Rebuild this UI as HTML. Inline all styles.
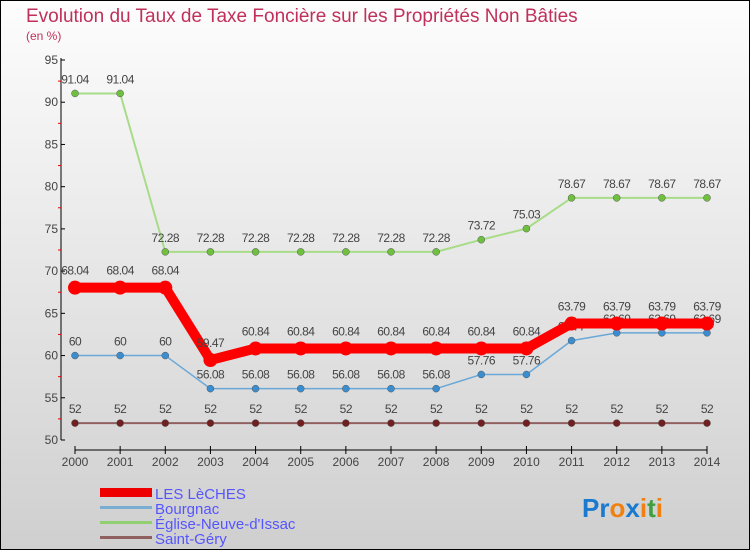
<!DOCTYPE html>
<html><head><meta charset="utf-8"><style>
body{margin:0;width:750px;height:550px;overflow:hidden;font-family:"Liberation Sans",sans-serif}
svg text{font-family:"Liberation Sans",sans-serif}
</style></head><body>
<svg width="750" height="550">
<defs><linearGradient id="bg" x1="0" y1="0" x2="0" y2="1"><stop offset="0" stop-color="#fdfdfd"/><stop offset="1" stop-color="#cfcfcf"/></linearGradient></defs>
<rect x="0.5" y="0.5" width="749" height="549" fill="url(#bg)" stroke="#000"/>
<text x="26" y="22" font-size="19" fill="#c0305a">Evolution du Taux de Taxe Foncière sur les Propriétés Non Bâties</text>
<text x="26" y="40" font-size="12" fill="#c0305a">(en %)</text>
<g id="axes"></g><g id="series"></g>
<g>
<rect x="100" y="488" width="52" height="9" fill="#e00"/>
<text x="155" y="499" font-size="15" fill="#55f">LES LèCHES</text>
<rect x="100" y="506" width="52" height="3" fill="#7aaed0"/>
<text x="155" y="514" font-size="15" fill="#55f">Bourgnac</text>
<rect x="100" y="521" width="52" height="3" fill="#90d070"/>
<text x="155" y="529" font-size="15" fill="#55f">Église-Neuve-d'Issac</text>
<rect x="100" y="536" width="52" height="3" fill="#906060"/>
<text x="155" y="544" font-size="15" fill="#55f">Saint-Géry</text>
</g>
<text x="582" y="517" font-size="26" font-weight="bold"><tspan fill="#1a7ad0">Pr</tspan><tspan fill="#f08010">o</tspan><tspan fill="#1a7ad0">x</tspan><tspan fill="#f08010">i</tspan><tspan fill="#40a040">t</tspan><tspan fill="#f08010">i</tspan></text>
</svg>
<script>
const years=[2000,2001,2002,2003,2004,2005,2006,2007,2008,2009,2010,2011,2012,2013,2014];
const yTicks=[50,55,60,65,70,75,80,85,90,95];
const lesLeches=[68.04,68.04,68.04,59.47,60.84,60.84,60.84,60.84,60.84,60.84,60.84,63.79,63.79,63.79,63.79];
const bourgnac=[60,60,60,56.08,56.08,56.08,56.08,56.08,56.08,57.76,57.76,61.77,62.69,62.69,62.69];
const eglise=[91.04,91.04,72.28,72.28,72.28,72.28,72.28,72.28,72.28,73.72,75.03,78.67,78.67,78.67,78.67];
const saintGery=[52,52,52,52,52,52,52,52,52,52,52,52,52,52,52];
const NS="http://www.w3.org/2000/svg";
const x=i=>75+i*(707-75)/(years.length-1);
const y=v=>440-(v-50)*(380/45);
function mk(tag,attrs,parent){const e=document.createElementNS(NS,tag);for(const k in attrs)e.setAttribute(k,attrs[k]);parent.appendChild(e);return e;}
const ax=document.getElementById('axes');
let e=mk('line',{x1:61,y1:58,x2:61,y2:440,stroke:'#000'},ax);


e=mk('line',{x1:75,y1:450,x2:707,y2:450,stroke:'#000'},ax);


yTicks.forEach((t,i)=>{
  mk('line',{x1:61,y1:y(t),x2:65,y2:y(t),stroke:'#000'},ax);
  if(i<yTicks.length-1)mk('line',{x1:58,y1:y(t+2.5),x2:61,y2:y(t+2.5),stroke:'#e00'},ax);
  const tx=mk('text',{x:58,y:y(t)+4,'font-size':12,'text-anchor':'end',fill:'#444'},ax);
  tx.textContent=t;
  
  
});
years.forEach((yr,i)=>{
  mk('line',{x1:x(i),y1:446,x2:x(i),y2:454,stroke:'#000'},ax);
  const tx=mk('text',{x:x(i),y:466,'font-size':12,'text-anchor':'middle',fill:'#444'},ax);
  tx.textContent=yr;
  
  
});
const sg=document.getElementById('series');
function series(name,vals,color,w,r,dot,off){
  const g=mk('g',{},sg);
  
  
  mk('polyline',{points:vals.map((v,i)=>x(i)+','+y(v)).join(' '),fill:'none',stroke:color,'stroke-width':w,'stroke-linejoin':'round'},g);
  vals.forEach((v,i)=>{
    const c=mk('circle',{cx:x(i),cy:y(v),r:r,fill:dot,stroke:'#555','stroke-width':r>5?0:0.5},g);
    
    
    const t=mk('text',{x:x(i),y:y(v)-off,'font-size':12,'text-anchor':'middle',fill:'#444','letter-spacing':'-0.5'},g);
    t.textContent=String(v);
    
    
  });
}
series('saint-gery-series',saintGery,'#906060',2,3.5,'#702020',10);
series('eglise-series',eglise,'#a8dc88',2,3.5,'#70c040',10);
series('bourgnac-series',bourgnac,'#6aa8d8',1.5,3.5,'#3a8ed0',10);
series('les-leches-series',lesLeches,'#f00',10,7,'#f00',13);
</script>
</body></html>
